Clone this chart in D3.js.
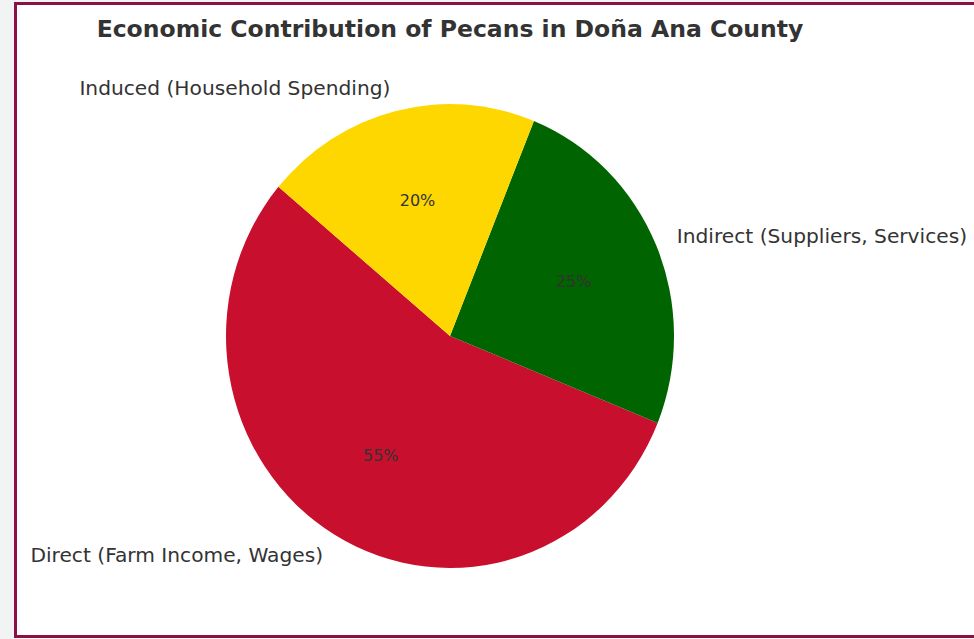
<!DOCTYPE html>
<html>
<head>
<meta charset="utf-8">
<script src="https://cdn.jsdelivr.net/npm/d3@7"></script>
<style>
  html, body { margin: 0; padding: 0; background: #f2f3f3; overflow: hidden; }
  svg { display: block; }
  text { font-family: "DejaVu Sans", sans-serif; fill: #333; }
</style>
</head>
<body>
<div id="chart"></div>
<script>
const categories = ["Direct (Farm Income, Wages)", "Indirect (Suppliers, Services)", "Induced (Household Spending)"];
const shares = [55, 25, 20];
const colors = ["#c8102e", "#006400", "#ffd700"];
const title = "Economic Contribution of Pecans in Doña Ana County";

const width = 974, height = 639;
const cx = 450, cy = 336;
const rx = 224, ry = 232;
const startDeg = 140; // counter-clockwise from 3 o'clock, like matplotlib

const svg = d3.select("#chart").append("svg")
  .attr("width", width)
  .attr("height", height);

// figure panel with maroon frame
svg.append("rect")
  .attr("x", 15.5).attr("y", 3.5)
  .attr("width", 1000).attr("height", 633)
  .attr("fill", "#fff")
  .attr("stroke", "#8a1046")
  .attr("stroke-width", 3);

svg.append("text")
  .attr("x", 450).attr("y", 29)
  .attr("text-anchor", "middle")
  .attr("dominant-baseline", "central")
  .attr("font-size", 23.5)
  .attr("font-weight", "bold")
  .text(title);

// d3 angles: clockwise from 12 o'clock. matplotlib: ccw from 3 o'clock.
const toD3 = deg => (90 - deg) * Math.PI / 180;

const pie = d3.pie()
  .sort(null)
  .value(d => d)
  .startAngle(toD3(startDeg))
  .endAngle(toD3(startDeg + 360));

const arcs = pie(shares);
const arc = d3.arc().innerRadius(0).outerRadius(rx);

const g = svg.append("g")
  .attr("transform", `translate(${cx},${cy}) scale(1,${ry / rx})`);

g.selectAll("path")
  .data(arcs)
  .enter()
  .append("path")
  .attr("d", arc)
  .attr("fill", (d, i) => colors[i]);

// position helper in screen space
const at = (d, k) => {
  const a = (d.startAngle + d.endAngle) / 2;
  return [cx + k * rx * Math.sin(a), cy - k * ry * Math.cos(a)];
};

// category labels
svg.selectAll("text.lbl")
  .data(arcs)
  .enter()
  .append("text")
  .attr("class", "lbl")
  .attr("x", d => at(d, 1.1)[0])
  .attr("y", d => at(d, 1.1)[1])
  .attr("text-anchor", d => at(d, 1.1)[0] < cx ? "end" : "start")
  .attr("dominant-baseline", "central")
  .attr("font-size", 20.2)
  .text((d, i) => categories[i]);

// percentage labels
svg.selectAll("text.pct")
  .data(arcs)
  .enter()
  .append("text")
  .attr("class", "pct")
  .attr("x", d => at(d, 0.6)[0])
  .attr("y", d => at(d, 0.6)[1])
  .attr("text-anchor", "middle")
  .attr("dominant-baseline", "central")
  .attr("font-size", 16)
  .text((d, i) => shares[i] + "%");
</script>
</body>
</html>
